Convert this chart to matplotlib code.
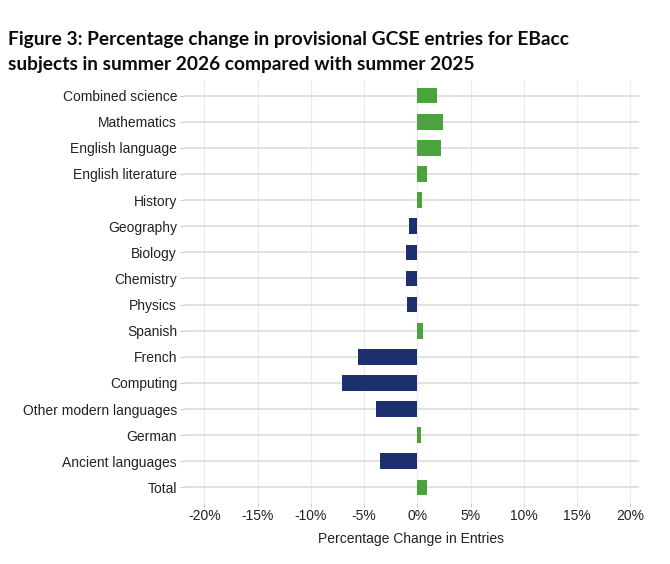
import matplotlib
matplotlib.use("Agg")
import matplotlib.pyplot as plt
import numpy as np

subjects = ["Combined science", "Mathematics", "English language", "English literature",
            "History", "Geography", "Biology", "Chemistry", "Physics", "Spanish",
            "French", "Computing", "Other modern languages", "German",
            "Ancient languages", "Total"]
pct_change = [1.8, 2.4, 2.25, 0.9, 0.4, -0.8, -1.05, -1.05, -0.95, 0.5,
              -5.55, -7.05, -3.85, 0.3, -3.5, 0.87]
tick_values = [-20, -15, -10, -5, 0, 5, 10, 15, 20]
tick_labels = ["-20%", "-15%", "-10%", "-5%", "0%", "5%", "10%", "15%", "20%"]

GREEN = "#4ba33d"
NAVY = "#1c2f6e"

fig = plt.figure(figsize=(6.7, 5.64), dpi=100)
ax = fig.add_axes([184/670, 1-503/564, (639-184)/670, 423/564])

y = np.arange(len(subjects))
colors = [GREEN if v >= 0 else NAVY for v in pct_change]
ax.barh(y, pct_change, height=0.6, color=colors, zorder=3)

ax.set_xlim(-21.9, 20.8)
ax.set_ylim(len(subjects) - 0.4, -0.6)
ax.set_yticks(y)
ax.set_yticklabels(subjects, fontsize=10, color="#222222", family="Liberation Sans")
ax.set_xticks(tick_values)
ax.set_xticklabels(tick_labels, fontsize=10, color="#222222", family="Liberation Sans")
ax.tick_params(axis="y", length=3, color="#cccccc", width=0.8, pad=2)
ax.tick_params(axis="x", length=3, color="#cccccc", width=0.8, pad=1)

for v in tick_values:
    ax.axvline(v, color="#ebebeb", lw=0.9, zorder=1)
for yy in y:
    ax.axhline(yy, color="#d9d9d9", lw=1.1, zorder=1)

for s in ax.spines.values():
    s.set_visible(False)

ax.set_xlabel("Percentage Change in Entries", fontsize=10, color="#222222",
              family="Liberation Sans", labelpad=7)

fig.text(8/670, 1-45/564, "Figure 3: Percentage change in provisional GCSE entries for EBacc",
         fontsize=13.8, fontweight="bold", family="Lato", color="#0b0c0c", va="baseline")
fig.text(8/670, 1-70/564, "subjects in summer 2026 compared with summer 2025",
         fontsize=13.8, fontweight="bold", family="Lato", color="#0b0c0c", va="baseline")

fig.savefig("out.png", dpi=100)
